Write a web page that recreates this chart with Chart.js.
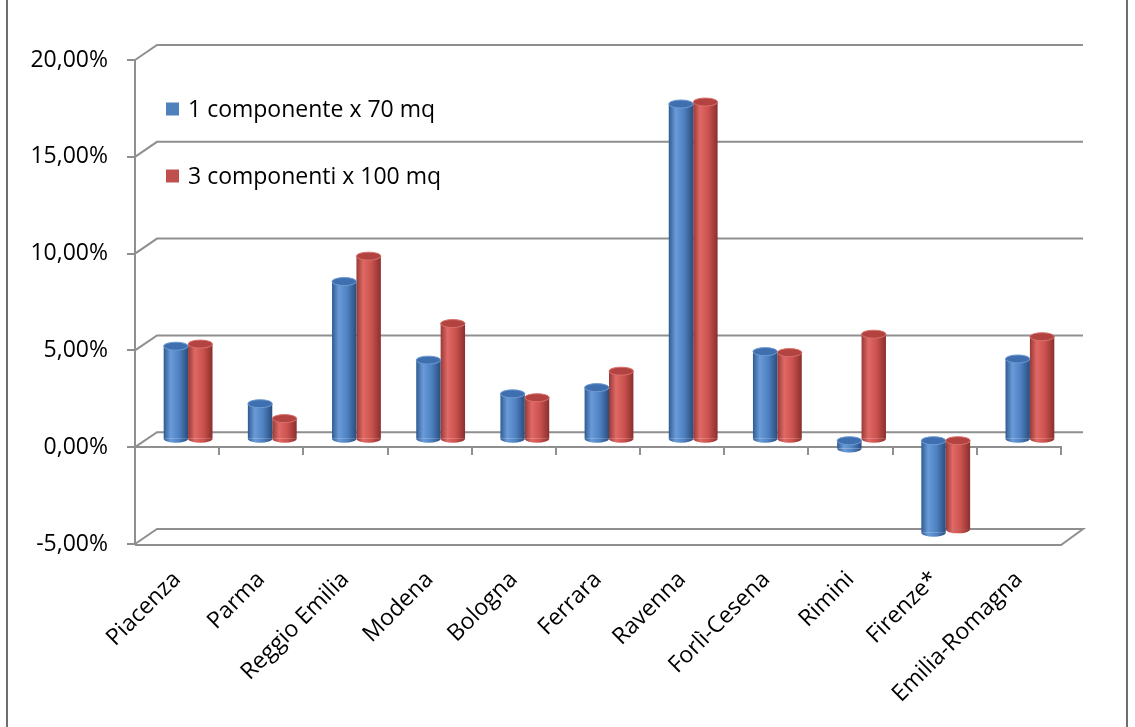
<!DOCTYPE html>
<html>
<head>
<meta charset="utf-8">
<script src="https://cdn.jsdelivr.net/npm/chart.js@4.4.1/dist/chart.umd.min.js"></script>
<style>
  html, body { margin: 0; padding: 0; background: #ffffff; }
  #wrap { position: relative; width: 1135px; height: 727px; }
  canvas { display: block; }
</style>
</head>
<body>
<div id="wrap"><canvas id="chart" width="1135" height="727" style="width:1135px;height:727px"></canvas></div>
<script>
// Categories and the two series (percent change)
const categories = ['Piacenza', 'Parma', 'Reggio Emilia', 'Modena', 'Bologna', 'Ferrara',
                    'Ravenna', 'Forlì-Cesena', 'Rimini', 'Firenze*', 'Emilia-Romagna'];
const seriesNames = ['1 componente x 70 mq', '3 componenti x 100 mq'];
const oneComponent70 = [4.83, 1.86, 8.17, 4.11, 2.37, 2.69, 17.34, 4.55, -0.45, -4.80, 4.17];
const threeComponents100 = [4.94, 1.09, 9.48, 6.00, 2.17, 3.54, 17.44, 4.50, 5.45, -4.63, 5.32];
const yMin = -5, yMax = 20, yStep = 5;

// 3D look: depth of the box and shading of the cylinders
const DEPTH_X = 22, DEPTH_Y = 15;
const LINE = '#8f8f8f';
const FONT = 'Open Sans';
const FONT_SIZE = 23;
const palettes = [
  { edgeL: '#2f5b92', light: '#6a9bd8', mid: '#4f82c3', edgeR: '#2a4d7c', cap: '#3f6fae', rim: '#6d9bd4', key: '#4f81bd' },
  { edgeL: '#973937', light: '#e06965', mid: '#cb524e', edgeR: '#8a2f2d', cap: '#b24340', rim: '#d9706c', key: '#c0504d' }
];

function pct(v) { return v.toFixed(2).replace('.', ',') + '%'; }

function cylinderFill(p) {
  return (ctx) => {
    const el = ctx.element;
    if (!el || el.x === undefined || isNaN(el.x) || !el.width) return p.mid;
    const g = ctx.chart.ctx.createLinearGradient(el.x - el.width / 2, 0, el.x + el.width / 2, 0);
    g.addColorStop(0, p.edgeL);
    g.addColorStop(0.28, p.light);
    g.addColorStop(0.62, p.mid);
    g.addColorStop(1, p.edgeR);
    return g;
  };
}

// Back wall, floor and frame of the 3D box
const box3d = {
  id: 'box3d',
  beforeDraw(chart) {
    const c = chart.ctx;
    c.save();
    c.fillStyle = '#ffffff';
    c.fillRect(0, 0, chart.width, chart.height);
    c.strokeStyle = '#6e6e6e';
    c.lineWidth = 2;
    c.beginPath();
    c.moveTo(7, 0); c.lineTo(7, chart.height);
    c.moveTo(1127, 0); c.lineTo(1127, chart.height);
    c.stroke();
    c.restore();
  },
  beforeDatasetsDraw(chart) {
    const c = chart.ctx, a = chart.chartArea, y = chart.scales.y;
    c.save();
    c.strokeStyle = LINE;
    c.lineWidth = 2;
    y.ticks.forEach(t => {
      const py = y.getPixelForValue(t.value);
      c.beginPath();
      c.moveTo(a.left, py);
      c.lineTo(a.left + DEPTH_X, py - DEPTH_Y);
      c.lineTo(a.right + DEPTH_X, py - DEPTH_Y);
      if (t.value === yMin) {
        c.lineTo(a.right, py + 1);
        c.lineTo(a.left, py + 1);
      }
      c.stroke();
    });
    c.restore();
    // bars stand half way into the box
    c.save();
    c.translate(DEPTH_X / 2, -DEPTH_Y / 2);
  },
  afterDatasetsDraw(chart) {
    const c = chart.ctx;
    const RY = 4;
    chart.data.datasets.forEach((ds, di) => {
      const p = palettes[di];
      chart.getDatasetMeta(di).data.forEach(el => {
        const w = el.width, rx = w / 2;
        const top = Math.min(el.y, el.base), bottom = Math.max(el.y, el.base);
        const g = c.createLinearGradient(el.x - rx, 0, el.x + rx, 0);
        g.addColorStop(0, p.edgeL); g.addColorStop(0.28, p.light);
        g.addColorStop(0.62, p.mid); g.addColorStop(1, p.edgeR);
        // rounded bottom
        c.beginPath();
        c.ellipse(el.x, bottom, rx, RY, 0, 0, Math.PI);
        c.closePath();
        c.fillStyle = g;
        c.fill();
        // top cap
        c.beginPath();
        c.ellipse(el.x, top, rx, RY, 0, 0, Math.PI * 2);
        c.fillStyle = p.cap;
        c.fill();
        c.strokeStyle = p.rim;
        c.lineWidth = 1;
        c.stroke();
      });
    });
    c.restore();
  },
  afterDraw(chart) {
    // series key inside the plot
    const c = chart.ctx, a = chart.chartArea;
    c.save();
    c.font = FONT_SIZE + 'px "' + FONT + '"';
    c.textBaseline = 'middle';
    chart.data.datasets.forEach((ds, i) => {
      const cy = 109 + i * 67;
      c.fillStyle = palettes[i].key;
      c.fillRect(a.left + 31, cy - 6.5, 13, 13);
      c.fillStyle = '#000000';
      c.fillText(ds.label, a.left + 53, cy + 1);
    });
    c.restore();
  }
};

Chart.defaults.font.family = FONT;
Chart.defaults.color = '#000000';

const chart = new Chart(document.getElementById('chart'), {
  type: 'bar',
  data: {
    labels: categories,
    datasets: [
      { label: seriesNames[0], data: oneComponent70, backgroundColor: cylinderFill(palettes[0]), borderWidth: 0 },
      { label: seriesNames[1], data: threeComponents100, backgroundColor: cylinderFill(palettes[1]), borderWidth: 0 }
    ]
  },
  options: {
    responsive: false,
    animation: false,
    devicePixelRatio: 1,
    categoryPercentage: 0.58,
    barPercentage: 1.0,
    layout: { padding: { top: 60, right: 74, left: 0, bottom: 0 } },
    plugins: { legend: { display: false }, tooltip: { enabled: false } },
    scales: {
      x: {
        type: 'category',
        position: 'bottom',
        offset: true,
        grid: { display: false },
        border: { display: false },
        ticks: { autoSkip: false, minRotation: 45, maxRotation: 45, padding: 14, font: { size: FONT_SIZE } },
        afterFit(s) { s.height = 183; }
      },
      x2: {
        type: 'category',
        labels: categories,
        position: { y: 0 },
        offset: true,
        grid: { offset: true, drawOnChartArea: false, drawTicks: true, tickLength: 7, color: LINE, lineWidth: 2 },
        border: { display: true, color: LINE, width: 2 },
        ticks: { display: false }
      },
      y: {
        min: yMin,
        max: yMax,
        ticks: { stepSize: yStep, padding: 19, font: { size: FONT_SIZE }, callback: v => pct(v) },
        grid: { drawOnChartArea: false, drawTicks: true, tickLength: 8, color: LINE, lineWidth: 2 },
        border: { display: true, color: LINE, width: 2 },
        afterFit(s) { s.width = 135; }
      }
    }
  },
  plugins: [box3d]
});
chart.update('none');
</script>
</body>
</html>
